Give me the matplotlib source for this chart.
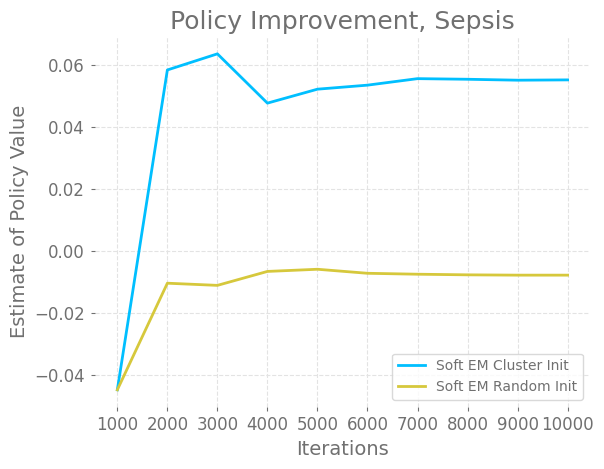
import matplotlib
matplotlib.use("Agg")
import matplotlib.pyplot as plt

iterations = [1000, 2000, 3000, 4000, 5000, 6000, 7000, 8000, 9000, 10000]
cluster_init = [-0.0448, 0.0584, 0.0636, 0.0477, 0.0522, 0.0535, 0.0556, 0.0554, 0.0551, 0.0552]
random_init = [-0.0448, -0.0104, -0.0111, -0.0066, -0.0059, -0.0072, -0.0075, -0.0077, -0.0078, -0.0078]

text_color = "#707070"

fig, ax = plt.subplots(figsize=(6.04, 4.69), dpi=100)
fig.subplots_adjust(left=0.157, right=0.977, top=0.921, bottom=0.133)

ax.plot(iterations, cluster_init, color="#00bfff", linewidth=2, label="Soft EM Cluster Init")
ax.plot(iterations, random_init, color="#d6c83c", linewidth=2, label="Soft EM Random Init")

ax.set_xticks(iterations)
ax.set_yticks([-0.04, -0.02, 0.00, 0.02, 0.04, 0.06])
ax.set_yticklabels(["\u22120.04", "\u22120.02", "0.00", "0.02", "0.04", "0.06"])

for s in ax.spines.values():
    s.set_visible(False)
ax.tick_params(axis="both", colors=text_color, labelsize=12, length=3, pad=4)
ax.grid(True, linestyle="--", color="#e3e3e3", linewidth=0.8)
ax.set_axisbelow(True)

ax.set_xlabel("Iterations", fontsize=14, color=text_color)
ax.set_ylabel("Estimate of Policy Value", fontsize=14, color=text_color)
ax.set_title("Policy Improvement, Sepsis", fontsize=18, color=text_color)

leg = ax.legend(loc="lower right", fontsize=10, labelcolor=text_color)
leg.get_frame().set_edgecolor("#d0d0d0")

fig.savefig("out.png", dpi=100)
